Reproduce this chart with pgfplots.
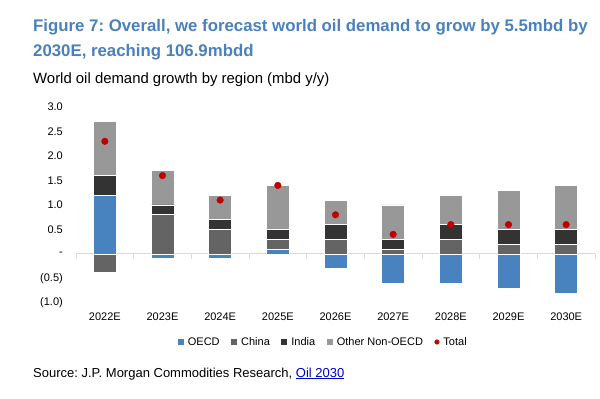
\documentclass[border=0pt]{standalone}
\usepackage{fontspec}
\setmainfont{Liberation Sans}
\usepackage{pgfplots}
\pgfplotsset{compat=1.18}
\frenchspacing
\definecolor{oecd}{RGB}{72,131,192}
\definecolor{china}{RGB}{100,100,100}
\definecolor{india}{RGB}{51,51,51}
\definecolor{other}{RGB}{152,152,152}
\definecolor{totred}{RGB}{192,0,0}
\definecolor{titleblue}{RGB}{73,129,189}
\definecolor{linkblue}{RGB}{0,0,204}
\definecolor{zeroline}{RGB}{217,217,217}
\pgfplotsset{
  base/.style={
    at={(76bp,96bp)}, anchor=south west, scale only axis,
    width=519bp, height=196bp,
    xmin=-0.5, xmax=8.5, ymin=-1, ymax=3,
    ybar stacked, bar width=22.8bp,
    /pgf/number format/assume math mode=true,
  },
  barsty/.style={fill=#1, draw=white, line width=0.8bp},
}
\begin{document}
\begin{tikzpicture}
\path (0bp,0bp) rectangle (600bp,399bp);
\node[anchor=base west, inner sep=0, text=titleblue, font=\fontsize{16.8bp}{20bp}\selectfont\bfseries] at (33bp,367.5bp) {Figure 7: Overall, we forecast world oil demand to grow by 5.5mbd by};
\node[anchor=base west, inner sep=0, text=titleblue, font=\fontsize{16.8bp}{20bp}\selectfont\bfseries] at (33bp,342bp) {2030E, reaching 106.9mbdd};
\node[anchor=base west, inner sep=0, font=\fontsize{14.9bp}{17bp}\selectfont] at (33bp,315bp) {World oil demand growth by region (mbd y/y)};
\node[anchor=base west, inner sep=0, font=\fontsize{13bp}{15bp}\selectfont] at (33bp,22bp) {Source: J.P. Morgan Commodities Research, \textcolor{linkblue}{\underline{Oil 2030}}};
% zero line and category boundary ticks
\draw[zeroline, line width=1bp] (76bp,145bp) -- (595bp,145bp);
\foreach \k in {0,...,9} \draw[zeroline, line width=1bp] ({(76+\k*57.6667)*1bp},145bp) -- ++(0,-5bp);

% negative parts
\begin{axis}[base,
  axis line style={draw=none}, tick style={draw=none},
  xtick={0,...,8},
  xticklabels={2022E,2023E,2024E,2025E,2026E,2027E,2028E,2029E,2030E},
  xticklabel style={inner sep=0pt, anchor=north, yshift=-10bp, font=\fontsize{11bp}{13bp}\selectfont},
  ytick={-1,-0.5,0,0.5,1,1.5,2,2.5,3},
  yticklabels={(1.0),(0.5),-\hspace{8bp},0.5\hspace{2bp},1.0\hspace{2bp},1.5\hspace{2bp},2.0\hspace{2bp},2.5\hspace{2bp},3.0\hspace{2bp}},
  yticklabel style={inner sep=0pt, anchor=east, xshift=-13bp, font=\fontsize{11bp}{13bp}\selectfont},
]
\addplot[barsty=oecd] coordinates {(0,0) (1,-0.08) (2,-0.08) (3,0) (4,-0.3) (5,-0.6) (6,-0.6) (7,-0.7) (8,-0.8)};
\addplot[barsty=china] coordinates {(0,-0.38) (1,0) (2,0) (3,0) (4,0) (5,0) (6,0) (7,0) (8,0)};
\end{axis}

% positive parts
\begin{axis}[base, hide axis,
  legend columns=-1,
  legend style={draw=none, fill=none, at={(0.476,-0.199)}, anchor=center,
    font=\fontsize{11bp}{13bp}\selectfont, inner sep=0pt,
    nodes={inner sep=1.5bp},
    /tikz/every even column/.append style={column sep=10bp},
    /tikz/every odd column/.append style={column sep=2.5bp}},
  legend image code/.code={\fill[#1, draw=none] (0bp,-3bp) rectangle (6bp,3bp);},
]
\addplot[barsty=oecd] coordinates {(0,1.2) (1,0) (2,0) (3,0.1) (4,0) (5,0) (6,0) (7,0) (8,0)};
\addlegendentry{OECD}
\addplot[barsty=china] coordinates {(0,0) (1,0.8) (2,0.5) (3,0.2) (4,0.3) (5,0.1) (6,0.3) (7,0.2) (8,0.2)};
\addlegendentry{China}
\addplot[barsty=india] coordinates {(0,0.4) (1,0.2) (2,0.2) (3,0.2) (4,0.3) (5,0.2) (6,0.3) (7,0.3) (8,0.3)};
\addlegendentry{India}
\addplot[barsty=other] coordinates {(0,1.1) (1,0.7) (2,0.5) (3,0.9) (4,0.5) (5,0.7) (6,0.6) (7,0.8) (8,0.9)};
\addlegendentry{Other Non-OECD}
\addlegendimage{legend image code/.code={\fill[totred] (3bp,0bp) circle (2.3bp);}}
\addlegendentry{Total}
\end{axis}

% totals
\begin{axis}[at={(76bp,96bp)}, anchor=south west, scale only axis,
    width=519bp, height=196bp,
    xmin=-0.5, xmax=8.5, ymin=-1, ymax=3, hide axis]
\addplot[only marks, mark=*, mark size=3.3bp, color=totred] coordinates {(0,2.3) (1,1.6) (2,1.1) (3,1.4) (4,0.8) (5,0.4) (6,0.6) (7,0.6) (8,0.6)};
\end{axis}
\end{tikzpicture}
\end{document}
